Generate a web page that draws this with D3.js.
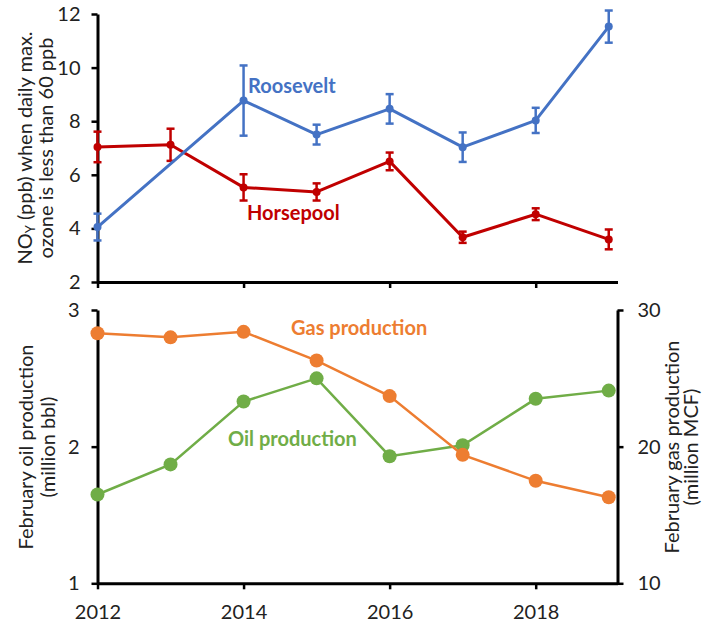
<!DOCTYPE html>
<html>
<head>
<meta charset="utf-8">
<script src="https://cdn.jsdelivr.net/npm/d3@7"></script>
<style>
  html, body { margin: 0; padding: 0; background: #fff; }
  svg { display: block; font-family: Lato, "Liberation Sans", sans-serif; }
</style>
</head>
<body>
<svg id="chart" width="703" height="622"></svg>
<script>
// Years shared by both panels
const years = [2012, 2013, 2014, 2015, 2016, 2017, 2018, 2019];

// Top panel: NOy (ppb) on days with max ozone < 60 ppb, with error bars
const roosevelt    = [4.05, null, 8.77, 7.50, 8.46, 7.03, 8.03, 11.53];
const roosErr      = [0.50, null, 1.31, 0.37, 0.55, 0.55, 0.47, 0.60];
const horsepool    = [7.04, 7.12, 5.53, 5.36, 6.50, 3.67, 4.53, 3.59];
const horseErr     = [0.57, 0.60, 0.49, 0.32, 0.33, 0.21, 0.22, 0.37];

// Bottom panel: February production
const oil = [1.65, 1.87, 2.33, 2.50, 1.93, 2.01, 2.35, 2.41];   // million bbl
const gas = [28.3, 28.0, 28.4, 26.3, 23.7, 19.4, 17.5, 16.3];   // million MCF

// Tick values
const yearTicks = [2012, 2014, 2016, 2018];
const noyTicks = [2, 4, 6, 8, 10, 12];
const oilTicks = [1, 2, 3];
const gasTicks = [10, 20, 30];

const C = {
  blue: "#4472C4", red: "#C00000", orange: "#ED7D31", green: "#70AD47", ink: "#000"
};
const FS = "20px";

const svg = d3.select("#chart");

const x = d3.scaleLinear().domain([2012, 2019.12]).range([97.5, 617.5]);
const yTop = d3.scaleLinear().domain([2, 12]).range([282, 14]);
const yOil = d3.scaleLinear().domain([1, 3]).range([583.3, 310]);
const yGas = d3.scaleLinear().domain([10, 30]).range([583.3, 310]);

function styleAxis(g) {
  g.select(".domain").attr("stroke", C.ink).attr("stroke-width", 3);
  g.selectAll(".tick line").attr("stroke", C.ink).attr("stroke-width", 2.5);
  g.selectAll(".tick text").attr("fill", "#222").style("font-size", FS)
    .style("font-family", "Lato, 'Liberation Sans', sans-serif");
}

// ---------- Top panel ----------
svg.append("g").attr("transform", "translate(0,282)")
  .call(d3.axisBottom(x).tickValues(yearTicks).tickFormat("").tickSize(6).tickSizeOuter(0))
  .call(styleAxis);

svg.append("g").attr("transform", "translate(97.5,0)")
  .call(d3.axisLeft(yTop).tickValues(noyTicks).tickSize(6).tickSizeOuter(0).tickPadding(11))
  .call(styleAxis);

function errorSeries(vals, errs, color) {
  const pts = years.map((yr, i) => ({ yr, v: vals[i], e: errs[i] })).filter(d => d.v != null);
  const g = svg.append("g");
  g.append("path").datum(pts)
    .attr("fill", "none").attr("stroke", color).attr("stroke-width", 3)
    .attr("stroke-linejoin", "round")
    .attr("d", d3.line().x(d => x(d.yr)).y(d => yTop(d.v)));
  const eb = g.selectAll(".eb").data(pts).join("g").attr("stroke", color).attr("stroke-width", 2.5);
  eb.append("line").attr("x1", d => x(d.yr)).attr("x2", d => x(d.yr))
    .attr("y1", d => yTop(d.v - d.e)).attr("y2", d => yTop(d.v + d.e));
  eb.append("line").attr("x1", d => x(d.yr) - 4).attr("x2", d => x(d.yr) + 4)
    .attr("y1", d => yTop(d.v + d.e)).attr("y2", d => yTop(d.v + d.e));
  eb.append("line").attr("x1", d => x(d.yr) - 4).attr("x2", d => x(d.yr) + 4)
    .attr("y1", d => yTop(d.v - d.e)).attr("y2", d => yTop(d.v - d.e));
  g.selectAll("circle").data(pts).join("circle")
    .attr("cx", d => x(d.yr)).attr("cy", d => yTop(d.v)).attr("r", 4).attr("fill", color);
}
errorSeries(horsepool, horseErr, C.red);
errorSeries(roosevelt, roosErr, C.blue);

svg.append("text").attr("x", 248).attr("y", 93).attr("fill", C.blue)
  .attr("font-weight", 700).style("font-size", FS).text("Roosevelt");
svg.append("text").attr("x", 247).attr("y", 220).attr("fill", C.red)
  .attr("font-weight", 700).style("font-size", FS).text("Horsepool");

// Top y title (two lines, rotated)
const tTitle = svg.append("text").attr("transform", "translate(32,148) rotate(-90)")
  .attr("text-anchor", "middle").attr("fill", "#222").style("font-size", FS);
tTitle.append("tspan").text("NO");
tTitle.append("tspan").attr("dy", 3).style("font-size", "13px").text("Y");
tTitle.append("tspan").attr("dy", -3).text(" (ppb) when daily max.");
svg.append("text").attr("transform", "translate(53,148) rotate(-90)")
  .attr("text-anchor", "middle").attr("fill", "#222").style("font-size", FS)
  .text("ozone is less than 60 ppb");

// ---------- Bottom panel ----------
svg.append("g").attr("transform", "translate(0,583.3)")
  .call(d3.axisBottom(x).tickValues(yearTicks).tickFormat(d3.format("d")).tickSize(6).tickSizeOuter(0).tickPadding(16))
  .call(styleAxis);

svg.append("g").attr("transform", "translate(97.5,0)")
  .call(d3.axisLeft(yOil).tickValues(oilTicks).tickFormat(d3.format("d")).tickSize(6).tickSizeOuter(0).tickPadding(12))
  .call(styleAxis);

svg.append("g").attr("transform", "translate(617.5,0)")
  .call(d3.axisRight(yGas).tickValues(gasTicks).tickFormat(d3.format("d")).tickSize(6).tickSizeOuter(0).tickPadding(14))
  .call(styleAxis);

function dotSeries(vals, yScale, color) {
  const pts = years.map((yr, i) => ({ yr, v: vals[i] }));
  const g = svg.append("g");
  g.append("path").datum(pts)
    .attr("fill", "none").attr("stroke", color).attr("stroke-width", 2.5)
    .attr("d", d3.line().x(d => x(d.yr)).y(d => yScale(d.v)));
  g.selectAll("circle").data(pts).join("circle")
    .attr("cx", d => x(d.yr)).attr("cy", d => yScale(d.v)).attr("r", 7).attr("fill", color);
}
dotSeries(oil, yOil, C.green);
dotSeries(gas, yGas, C.orange);

svg.append("text").attr("x", 291).attr("y", 335).attr("fill", C.orange)
  .attr("font-weight", 700).style("font-size", FS).text("Gas production");
svg.append("text").attr("x", 228).attr("y", 446).attr("fill", C.green)
  .attr("font-weight", 700).style("font-size", FS).text("Oil production");

svg.append("text").attr("transform", "translate(33,447) rotate(-90)")
  .attr("text-anchor", "middle").attr("fill", "#222").style("font-size", FS)
  .text("February oil production");
svg.append("text").attr("transform", "translate(55,447) rotate(-90)")
  .attr("text-anchor", "middle").attr("fill", "#222").style("font-size", FS)
  .text("(million bbl)");

svg.append("text").attr("transform", "translate(679,447) rotate(-90)")
  .attr("text-anchor", "middle").attr("fill", "#222").style("font-size", FS)
  .text("February gas production");
svg.append("text").attr("transform", "translate(698,447) rotate(-90)")
  .attr("text-anchor", "middle").attr("fill", "#222").style("font-size", FS)
  .text("(million MCF)");
</script>
</body>
</html>
